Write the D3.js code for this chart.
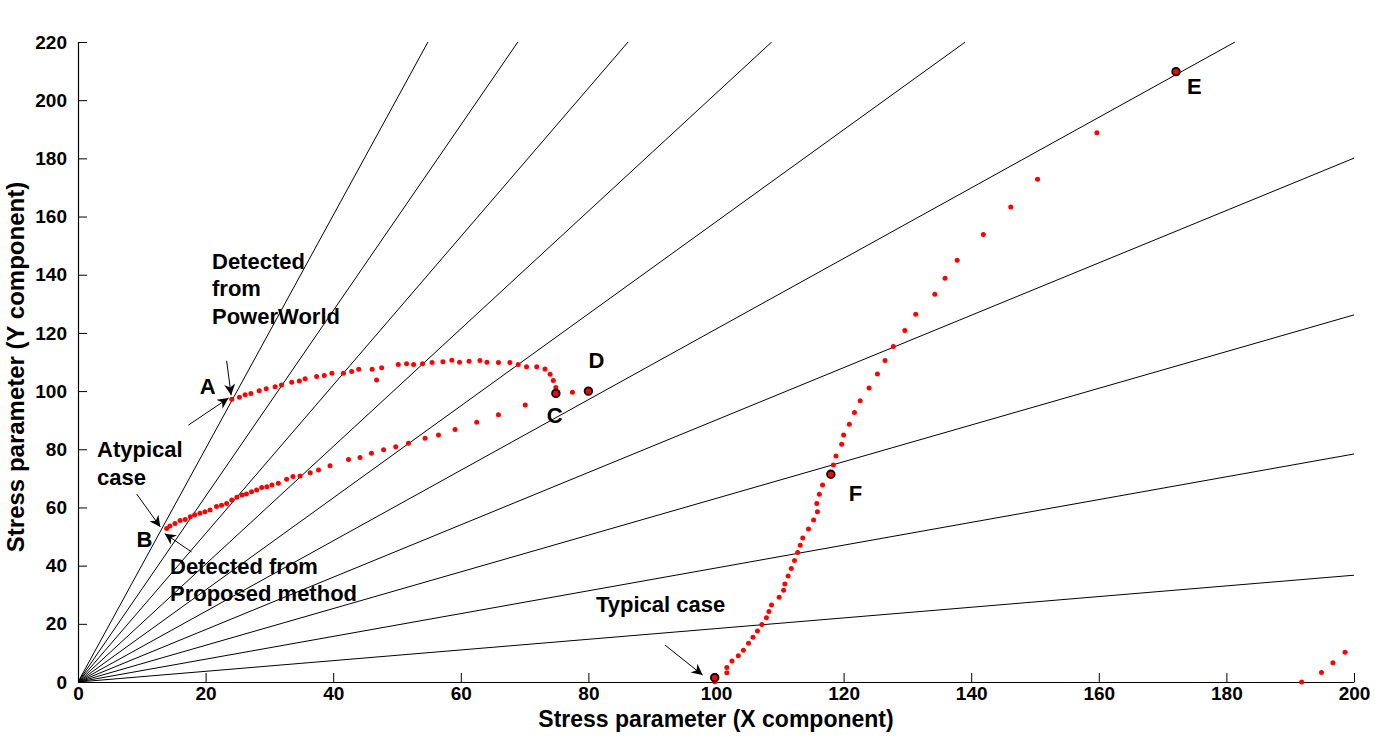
<!DOCTYPE html>
<html lang="en">
<head>
	<meta charset="UTF-8">
	<title>Stress parameter rays</title>
	<script type="text/javascript" src="https://cdnjs.cloudflare.com/ajax/libs/d3/7.8.5/d3.min.js"></script>
	<style>
		body { margin: 0; background: #fff; }
		svg text { font-family: Arial, "Liberation Sans", sans-serif; font-weight: bold; fill: #000; }
		.tick text { font-size: 19px; }
		.ray { stroke: #000; stroke-width: 1; fill: none; }
	</style>
</head>
<body>
<div id="chart"></div>
<script type="text/javascript">
	// directions of the rays from the origin (degrees)
	var rayAngles = [10.4, 21.4, 32.25, 42.0, 50.5, 57.7, 63.7, 68.6, 72.6, 76.0];

	var xTicks = [0, 20, 40, 60, 80, 100, 120, 140, 160, 180, 200];
	var yTicks = [0, 20, 40, 60, 80, 100, 120, 140, 160, 180, 200, 220];

	// atypical case, upper path A -> C
	var curveAC = [[24.1, 97.2], [25.3, 97.9], [26.2, 98.7], [27.1, 99.2], [28.4, 100.1], [29.5, 100.8], [30.9, 101.5],
		[31.9, 102.1], [33.5, 103.0], [34.7, 103.5], [35.6, 104.2], [37.4, 105.0], [38.6, 105.4], [39.8, 106.1],
		[41.6, 106.1], [42.9, 106.7], [44.0, 107.5], [46.1, 107.5], [47.6, 108.0], [46.8, 103.8], [50.2, 109.1],
		[51.5, 109.4], [52.6, 109.1], [54.0, 109.4], [55.5, 109.8], [57.2, 110.1], [58.6, 110.6], [59.8, 109.9],
		[61.3, 110.3], [63.0, 110.5], [64.1, 109.9], [65.9, 109.8], [67.7, 109.8], [69.0, 109.1], [70.3, 108.4],
		[71.9, 108.4], [73.2, 107.6], [74.0, 105.8], [74.5, 103.6], [74.9, 101.2]];

	// atypical case, lower path B -> D
	var curveBD = [[13.9, 52.8], [14.4, 53.6], [15.2, 54.5], [16.0, 55.5], [16.8, 55.9], [17.6, 56.8], [18.3, 57.5],
		[19.1, 58.0], [19.9, 58.5], [20.7, 59.1], [21.7, 60.3], [22.5, 60.8], [23.3, 61.4], [24.1, 62.6], [24.9, 63.5],
		[25.7, 64.3], [26.4, 64.6], [27.2, 65.4], [28.0, 66.0], [28.8, 66.9], [29.6, 67.1], [30.4, 67.7], [31.4, 68.3],
		[32.7, 69.7], [33.7, 70.6], [34.8, 70.8], [36.4, 71.9], [37.7, 72.9], [39.5, 74.3], [42.4, 76.5], [44.2, 77.2],
		[46.0, 78.6], [47.9, 79.8], [49.8, 80.9], [51.8, 82.1], [54.4, 83.8], [56.5, 84.9], [59.1, 86.8], [62.5, 89.3],
		[65.9, 91.9], [70.1, 95.2], [77.5, 99.6]];

	// typical case, (100, 0) -> F -> E
	var curveTypical = [[99.8, 0.1], [101.7, 3.2], [101.7, 5.0], [102.5, 7.2], [103.5, 9.0], [104.3, 10.9], [105.1, 13.3],
		[105.8, 15.4], [106.5, 17.5], [107.2, 19.8], [107.9, 22.1], [108.3, 24.2], [108.7, 26.5], [109.9, 29.1],
		[110.6, 31.5], [110.8, 33.7], [111.3, 36.4], [111.8, 39.0], [112.3, 41.8], [112.8, 44.5], [113.2, 47.0],
		[113.6, 49.5], [114.5, 52.6], [115.3, 55.7], [115.9, 58.5], [115.8, 61.4], [116.2, 64.5], [116.7, 67.7],
		[118.4, 74.6], [118.8, 77.7], [119.7, 81.7], [120.0, 84.9], [120.9, 88.6], [121.7, 92.6], [122.6, 96.7],
		[124.0, 101.1], [125.3, 105.9], [126.5, 110.5], [127.8, 115.3], [129.6, 120.8], [131.3, 126.4], [134.3, 133.3],
		[135.9, 138.8], [137.8, 145.0], [141.9, 153.8], [146.2, 163.3], [150.4, 172.8], [159.7, 188.8]];

	var curveTail = [[191.8, 0.0], [194.9, 3.3], [196.7, 6.6], [198.6, 10.2]];

	// circled points and the letters next to them
	var keyPoints = [
		{name: 'C', x: 74.9, y: 99.2},
		{name: 'D', x: 80.0, y: 100.0},
		{name: 'E', x: 172.1, y: 209.8},
		{name: 'F', x: 118.0, y: 71.4},
		{name: '', x: 99.8, y: 1.5}
	];
	var starPoints = [{name: 'A', x: 24.1, y: 98.0}, {name: 'B', x: 13.1, y: 51.9}];

	var width = 1375, height = 741;
	var margin = {top: 42, left: 78, bottom: 59, right: 21};

	var svg = d3.select('#chart').append('svg')
		.attr('width', width)
		.attr('height', height);

	var x = d3.scaleLinear().domain([0, 200]).range([margin.left, width - margin.right]);
	var y = d3.scaleLinear().domain([0, 220]).range([height - margin.bottom, margin.top]);

	var defs = svg.append('defs');
	defs.append('clipPath').attr('id', 'plot-clip')
		.append('rect')
		.attr('x', x(0)).attr('y', y(220))
		.attr('width', x(200) - x(0)).attr('height', y(0) - y(220));
	defs.append('marker')
		.attr('id', 'arrow')
		.attr('viewBox', '0 0 10 10')
		.attr('refX', 10).attr('refY', 5)
		.attr('markerWidth', 16).attr('markerHeight', 11)
		.attr('markerUnits', 'userSpaceOnUse')
		.attr('orient', 'auto')
		.append('path')
		.attr('d', 'M0,0 L10,5 L0,10 L3,5 Z')
		.attr('fill', '#000');

	// rays from the origin
	svg.append('g')
		.attr('clip-path', 'url(#plot-clip)')
		.selectAll('.ray')
		.data(rayAngles)
		.enter().append('line')
		.attr('class', 'ray')
		.attr('x1', x(0)).attr('y1', y(0))
		.attr('x2', function (d) {
			var t = Math.tan(d * Math.PI / 180);
			return x(Math.min(200, 220 / t));
		})
		.attr('y2', function (d) {
			var t = Math.tan(d * Math.PI / 180);
			return y(Math.min(220, 200 * t));
		});

	// axes, MATLAB style ticks pointing inward
	var xAxis = d3.axisBottom(x).tickValues(xTicks).tickSize(-9).tickPadding(4).tickSizeOuter(0);
	var yAxis = d3.axisLeft(y).tickValues(yTicks).tickSize(-9).tickPadding(10).tickSizeOuter(0);

	var gx = svg.append('g')
		.attr('transform', 'translate(0,' + y(0) + ')')
		.call(xAxis);
	var gy = svg.append('g')
		.attr('transform', 'translate(' + x(0) + ',0)')
		.call(yAxis);
	[gx, gy].forEach(function (g) {
		g.select('.domain').attr('stroke', '#000').attr('stroke-width', 1.2);
		g.selectAll('.tick line').attr('stroke', '#000');
		g.selectAll('.tick text').attr('fill', '#000');
	});
	gy.selectAll('.tick text').attr('dx', -1);
	gx.selectAll('.tick text').attr('dy', '0.72em');

	svg.append('text')
		.attr('x', 716).attr('y', 727)
		.attr('text-anchor', 'middle')
		.attr('font-size', 23)
		.text('Stress parameter (X component)');
	svg.append('text')
		.attr('transform', 'translate(24,367) rotate(-90)')
		.attr('text-anchor', 'middle')
		.attr('font-size', 24)
		.text('Stress parameter (Y component)');

	// red trajectories
	var dots = svg.append('g');
	[curveAC, curveBD, curveTypical, curveTail].forEach(function (curve) {
		dots.selectAll(null)
			.data(curve)
			.enter().append('circle')
			.attr('cx', function (d) { return x(d[0]); })
			.attr('cy', function (d) { return y(d[1]); })
			.attr('r', 2.5)
			.attr('fill', '#ff0000');
	});

	// annotation arrows
	var arrows = [
		[[23.3, 110.4], [24.0, 98.6]],
		[[17.3, 88.3], [23.6, 97.6]],
		[[9.2, 64.6], [12.9, 53.3]],
		[[17.8, 44.7], [13.6, 51.0]],
		[[92.0, 12.7], [97.9, 2.4]]
	];
	svg.append('g').selectAll('line')
		.data(arrows)
		.enter().append('line')
		.attr('x1', function (d) { return x(d[0][0]); })
		.attr('y1', function (d) { return y(d[0][1]); })
		.attr('x2', function (d) { return x(d[1][0]); })
		.attr('y2', function (d) { return y(d[1][1]); })
		.attr('stroke', '#000')
		.attr('stroke-width', 1)
		.attr('marker-end', 'url(#arrow)');

	svg.append('g').selectAll('circle')
		.data(keyPoints)
		.enter().append('circle')
		.attr('cx', function (d) { return x(d.x); })
		.attr('cy', function (d) { return y(d.y); })
		.attr('r', 3.8)
		.attr('fill', '#ff0000')
		.attr('stroke', '#000')
		.attr('stroke-width', 1.8);

	// letters
	var letterPos = {A: [-32, -3], B: [-25, 16], C: [-9, 30], D: [0, -23], E: [11, 22], F: [18, 27]};
	svg.append('g').selectAll('text')
		.data(starPoints.concat(keyPoints.filter(function (d) { return d.name; })))
		.enter().append('text')
		.attr('x', function (d) { return x(d.x) + letterPos[d.name][0]; })
		.attr('y', function (d) { return y(d.y) + letterPos[d.name][1]; })
		.attr('font-size', 22)
		.text(function (d) { return d.name; });

	var notes = [
		{x: 212, y: 269, t: 'Detected'},
		{x: 212, y: 296, t: 'from'},
		{x: 212, y: 324, t: 'PowerWorld'},
		{x: 97, y: 457, t: 'Atypical'},
		{x: 97, y: 485, t: 'case'},
		{x: 170, y: 574, t: 'Detected from'},
		{x: 170, y: 601, t: 'Proposed method'},
		{x: 596, y: 612, t: 'Typical case'}
	];
	svg.append('g').selectAll('text')
		.data(notes)
		.enter().append('text')
		.attr('x', function (d) { return d.x; })
		.attr('y', function (d) { return d.y; })
		.attr('font-size', 22)
		.text(function (d) { return d.t; });
</script>
</body>
</html>
